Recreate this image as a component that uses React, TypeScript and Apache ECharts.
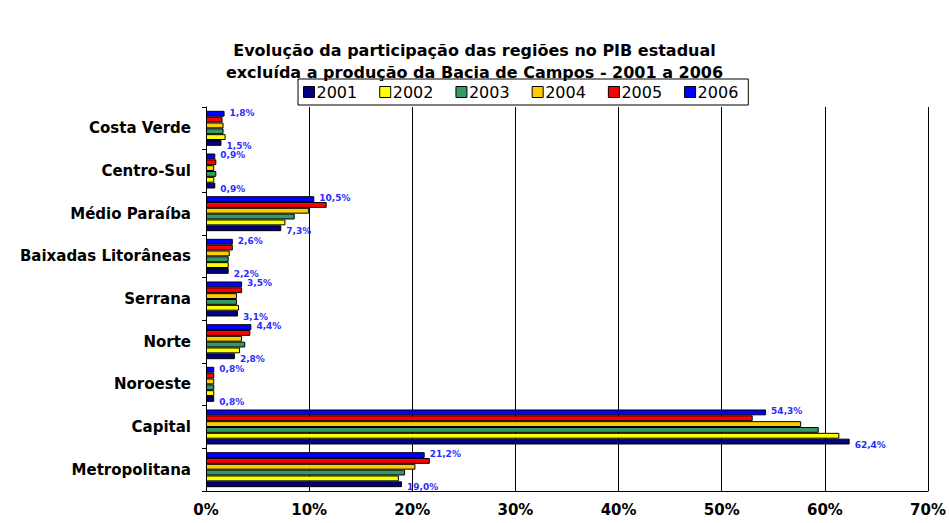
import React, { useEffect, useRef } from "react";
import * as echarts from "echarts";

const categories = [
  "Costa Verde",
  "Centro-Sul",
  "Médio Paraíba",
  "Baixadas Litorâneas",
  "Serrana",
  "Norte",
  "Noroeste",
  "Capital",
  "Metropolitana",
];
const years = ["2001", "2002", "2003", "2004", "2005", "2006"];
const v2001 = [1.5, 0.9, 7.3, 2.2, 3.1, 2.8, 0.8, 62.4, 19.0];
const v2002 = [1.9, 0.8, 7.7, 2.2, 3.2, 3.3, 0.8, 61.4, 18.7];
const v2003 = [1.7, 1.0, 8.6, 2.2, 3.0, 3.8, 0.8, 59.4, 19.3];
const v2004 = [1.7, 0.8, 10.0, 2.3, 3.0, 3.5, 0.8, 57.7, 20.3];
const v2005 = [1.6, 1.0, 11.7, 2.6, 3.5, 4.3, 0.8, 53.0, 21.7];
const v2006 = [1.8, 0.9, 10.5, 2.6, 3.5, 4.4, 0.8, 54.3, 21.2];
const seriesValues = [v2001, v2002, v2003, v2004, v2005, v2006];
const colors = ["#000080", "#FFFF00", "#339966", "#FFCC00", "#FF0000", "#0000FF"];
const xTicks = [0, 10, 20, 30, 40, 50, 60, 70];

const fmt = (v: number) => v.toFixed(1).replace(".", ",") + "%";
const FONT = "DejaVu Sans, Verdana, sans-serif";

export default function App() {
  const ref = useRef<HTMLDivElement>(null);
  useEffect(() => {
    if (!ref.current) return;
    const chart = echarts.init(ref.current, null, { renderer: "svg" });
    const labelStyle = (show: boolean, offsetY: number) => ({
      show,
      position: "right" as const,
      distance: 5,
      offset: [0, offsetY],
      formatter: (p: any) => fmt(p.value),
      color: "#2b2bff",
      fontSize: 9,
      fontWeight: "bold" as const,
      fontFamily: FONT,
    });
    // draw 2006 first so it sits at the top of each group
    const order = [5, 4, 3, 2, 1, 0];
    chart.setOption({
      animation: false,
      backgroundColor: "#ffffff",
      textStyle: { fontFamily: FONT },
      title: {
        text: "Evolução da participação das regiões no PIB estadual\nexcluída a produção da Bacia de Campos - 2001 a 2006",
        left: "center",
        top: 34,
        padding: 5,
        textStyle: {
          fontSize: 16,
          fontWeight: "bold",
          color: "#000",
          lineHeight: 22,
          fontFamily: FONT,
        },
      },
      legend: {
        data: years,
        left: 298,
        top: 79,
        borderColor: "#000",
        borderWidth: 1,
        padding: [5, 10, 5, 5],
        itemWidth: 11,
        itemHeight: 11,
        itemGap: 22,
        icon: "rect",
        itemStyle: { borderColor: "#000", borderWidth: 1 },
        textStyle: {
          fontSize: 16,
          color: "#000",
          padding: [0, 0, 0, -3],
          fontFamily: FONT,
        },
      },
      grid: { left: 206, right: 19, top: 107, bottom: 32, containLabel: false },
      xAxis: {
        type: "value",
        min: 0,
        max: 70,
        interval: 10,
        axisLine: { show: true, lineStyle: { color: "#000", width: 1 } },
        axisTick: { show: false },
        splitLine: { show: true, lineStyle: { color: "#000", width: 1 } },
        axisLabel: {
          formatter: (v: number) => (xTicks.includes(v) ? v + "%" : ""),
          fontSize: 15,
          fontWeight: "bold",
          color: "#000",
          margin: 11,
          fontFamily: FONT,
        },
      },
      yAxis: {
        type: "category",
        data: categories,
        inverse: true,
        axisLine: { show: true, lineStyle: { color: "#000", width: 1 } },
        axisTick: { show: true, length: 4, inside: false, lineStyle: { color: "#000" } },
        axisLabel: {
          fontSize: 15,
          fontWeight: "bold",
          color: "#000",
          margin: 15,
          fontFamily: FONT,
        },
      },
      series: order.map((i) => ({
        name: years[i],
        type: "bar",
        data: seriesValues[i],
        barGap: "0%",
        barCategoryGap: "18%",
        itemStyle: { color: colors[i], borderColor: "#000", borderWidth: 1 },
        label: labelStyle(i === 0 || i === 5, i === 0 ? 3 : -1),
        z: 2,
      })),
    });
    return () => chart.dispose();
  }, []);
  return <div ref={ref} style={{ width: 949, height: 523, position: "absolute", left: 0, top: 0 }} />;
}
